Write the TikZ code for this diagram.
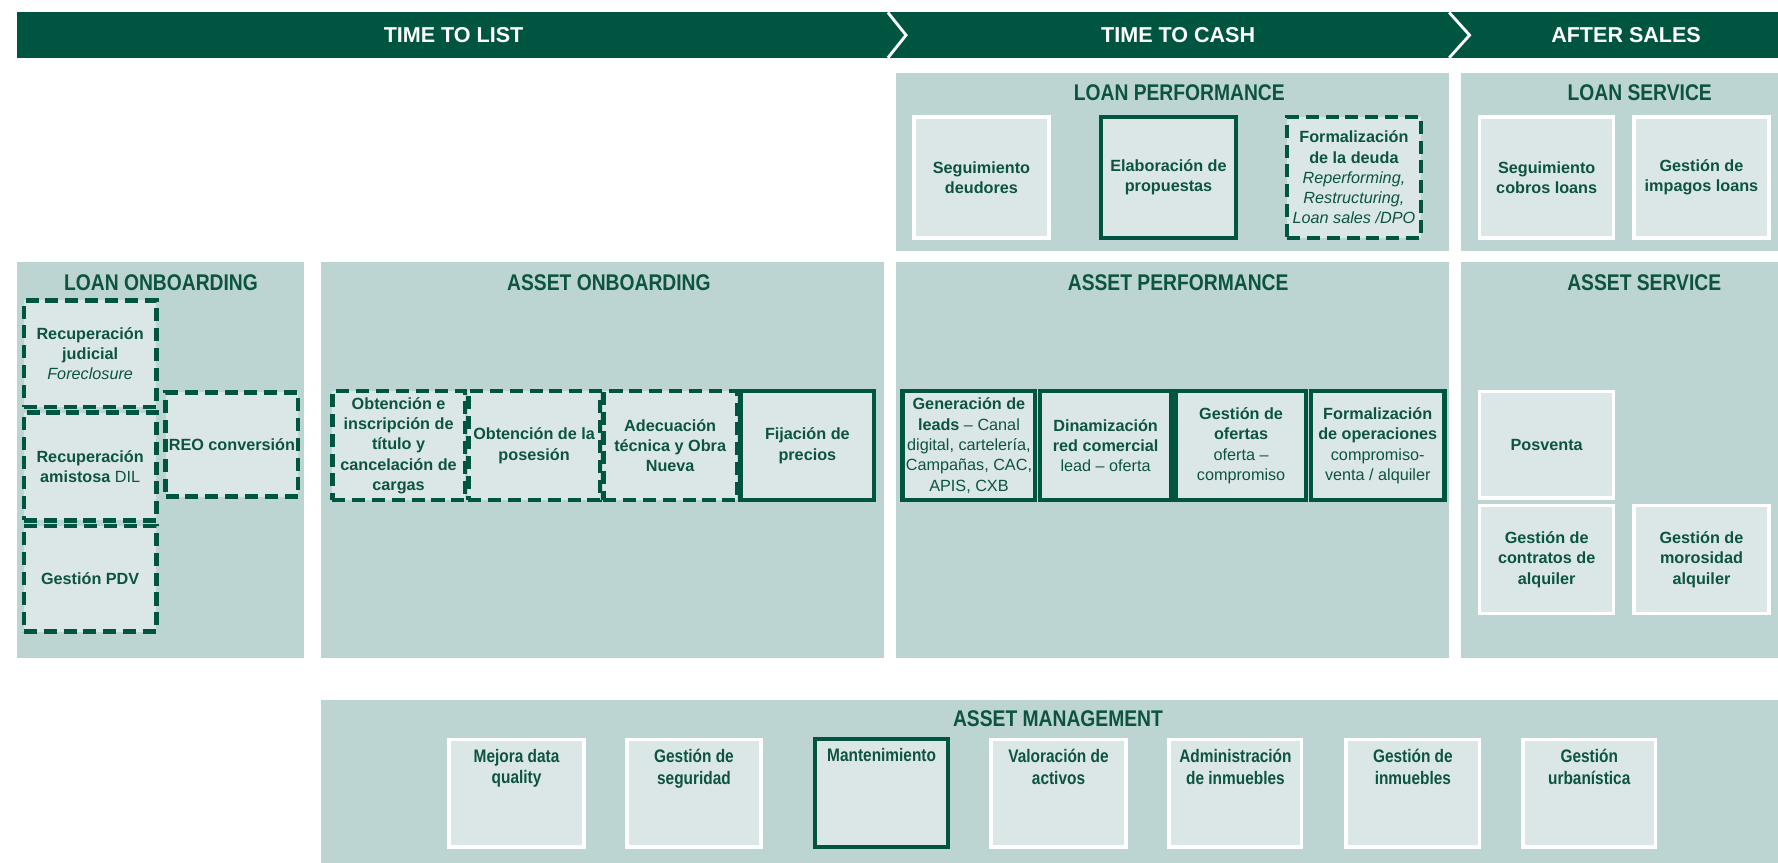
\documentclass[tikz,border=0pt]{standalone}
\usepackage{fontspec}
\setmainfont{Liberation Sans}
\newfontfamily\condf{Liberation Sans}[FakeStretch=0.85]
\definecolor{dgreen}{RGB}{0,85,64}
\definecolor{panelc}{RGB}{188,213,210}
\definecolor{boxc}{RGB}{219,231,230}
\definecolor{tgreen}{RGB}{12,84,64}
\newcommand\bxx[7]{\node[#1, minimum width={(#5-#3)*1pt}, minimum height={(#6-#4)*1pt}] (#2) at ({(#3+#5)/2},{(#4+#6)/2}) {#7};}
\tikzset{
  panel/.style={fill=panelc},
  ptitle/.style={text=tgreen, font=\condf\bfseries\fontsize{20}{22}\selectfont, inner sep=0pt},
  btxt/.style={text=white, font=\bfseries\fontsize{19}{21}\selectfont, inner sep=0pt},
  bx/.style={fill=boxc, align=center, text=tgreen, font=\bfseries\fontsize{14.3}{17.9}\selectfont, inner sep=1pt},
  wbx/.style={bx, draw=white, line width=3pt},
  sbx/.style={bx, draw=dgreen, line width=3.8pt},
  dbx/.style={bx, draw=dgreen, line width=4pt, dash pattern=on 11.5pt off 6pt},
  amtext/.style={anchor=north, yshift=-10pt, align=center, text=tgreen, inner sep=0pt, font=\condf\bfseries\fontsize{16}{19}\selectfont},
  chev/.style={draw=white, line width=2.5pt}
}
\begin{document}
\begin{tikzpicture}[x=1pt,y=-1pt]
\useasboundingbox (0,0) rectangle (1568,761);
\fill[white] (0,0) rectangle (1568,761);
% banner
\fill[dgreen] (15,11) rectangle (1568,51);
\coordinate (c1a) at (783,11); \coordinate (c1b) at (799,31); \coordinate (c1c) at (783,51);
\coordinate (c2a) at (1278,11); \coordinate (c2b) at (1296,31); \coordinate (c2c) at (1278,51);
\draw[chev] (c1a) -- (c1b) -- (c1c);
\draw[chev] (c2a) -- (c2b) -- (c2c);
\node[btxt] (ttl) at (400,31) {TIME TO LIST};
\node[btxt] (ttc) at (1039,31) {TIME TO CASH};
\node[btxt] (afs) at (1434,31) {AFTER SALES};
% panels
\fill[panel] (790,64) rectangle (1278,221);
\fill[panel] (1288,64) rectangle (1568,221);
\fill[panel] (15,231) rectangle (268,580);
\fill[panel] (283,231) rectangle (780,580);
\fill[panel] (790,231) rectangle (1278,580);
\fill[panel] (1288,231) rectangle (1568,580);
\fill[panel] (283,617) rectangle (1568,761);
% titles
\node[ptitle] (tlp) at (1040,82) {LOAN PERFORMANCE};
\node[ptitle] (tls) at (1446,82) {LOAN SERVICE};
\node[ptitle] (tlo) at (142,249) {LOAN ONBOARDING};
\node[ptitle] (tao) at (537,249) {ASSET ONBOARDING};
\node[ptitle] (tap) at (1039,249) {ASSET PERFORMANCE};
\node[ptitle] (tas) at (1450,249) {ASSET SERVICE};
\node[ptitle] (tam) at (933,634) {ASSET MANAGEMENT};
% loan performance
\bxx{wbx}{lp1}{806}{103}{925}{210}{Seguimiento\\deudores}
\bxx{sbx}{lp2}{971}{103}{1090}{210}{Elaboración de\\propuestas}
\bxx{dbx}{lp3}{1135}{103}{1253}{210}{Formalización\\de la deuda\\{\mdseries\itshape Reperforming,}\\{\mdseries\itshape Restructuring,}\\{\mdseries\itshape Loan sales /DPO}}
% loan service
\bxx{wbx}{ls1}{1305}{103}{1423}{210}{Seguimiento\\cobros loans}
\bxx{wbx}{ls2}{1441}{103}{1560}{210}{Gestión de\\impagos loans}
% loan onboarding
\bxx{dbx}{lo1}{21}{265}{138}{359}{Recuperación\\judicial\\{\mdseries\itshape Foreclosure}}
\bxx{dbx}{lo2}{21}{364}{138}{459}{Recuperación\\amistosa {\mdseries DIL}}
\bxx{dbx}{lo3}{21}{464}{138}{557}{Gestión PDV}
\bxx{dbx}{lo4}{146}{346}{263}{438}{REO conversión}
% asset onboarding
\bxx{dbx}{ao1}{293}{345}{410}{441}{Obtención e\\inscripción de\\título y\\cancelación de\\cargas}
\bxx{dbx}{ao2}{413}{345}{529}{441}{Obtención de la\\posesión}
\bxx{dbx}{ao3}{532}{345}{650}{441}{Adecuación\\técnica y Obra\\Nueva}
\bxx{sbx}{ao4}{653}{345}{771}{441}{Fijación de\\precios}
% asset performance
\bxx{sbx}{ap1}{796}{345}{913}{441}{Generación de\\leads {\mdseries – Canal}\\{\mdseries digital, cartelería,}\\{\mdseries Campañas, CAC,}\\{\mdseries APIS, CXB}}
\bxx{sbx}{ap2}{917}{345}{1033}{441}{Dinamización\\red comercial\\{\mdseries lead – oferta}}
\bxx{sbx}{ap3}{1037}{345}{1152}{441}{Gestión de\\ofertas\\{\mdseries oferta –}\\{\mdseries compromiso}}
\bxx{sbx}{ap4}{1156}{345}{1274}{441}{Formalización\\de operaciones\\{\mdseries compromiso-}\\{\mdseries venta / alquiler}}
% asset service
\bxx{wbx}{as1}{1305}{345}{1423}{439}{Posventa}
\bxx{wbx}{as2}{1305}{446}{1423}{541}{Gestión de\\contratos de\\alquiler}
\bxx{wbx}{as3}{1441}{446}{1560}{541}{Gestión de\\morosidad\\alquiler}
% asset management
\bxx{wbx, label={[amtext]north:{Mejora data\\quality}}}{am1}{396}{652}{515}{747}{}
\bxx{wbx, label={[amtext]north:{Gestión de\\seguridad}}}{am2}{553}{652}{671}{747}{}
\bxx{sbx, label={[amtext]north:{Mantenimiento}}}{am3}{719}{652}{836}{747}{}
\bxx{wbx, label={[amtext]north:{Valoración de\\activos}}}{am4}{874}{652}{993}{747}{}
\bxx{wbx, label={[amtext]north:{Administración\\de inmuebles}}}{am5}{1031}{652}{1148}{747}{}
\bxx{wbx, label={[amtext]north:{Gestión de\\inmuebles}}}{am6}{1187}{652}{1305}{747}{}
\bxx{wbx, label={[amtext]north:{Gestión\\urbanística}}}{am7}{1343}{652}{1460}{747}{}
\end{tikzpicture}
\end{document}
